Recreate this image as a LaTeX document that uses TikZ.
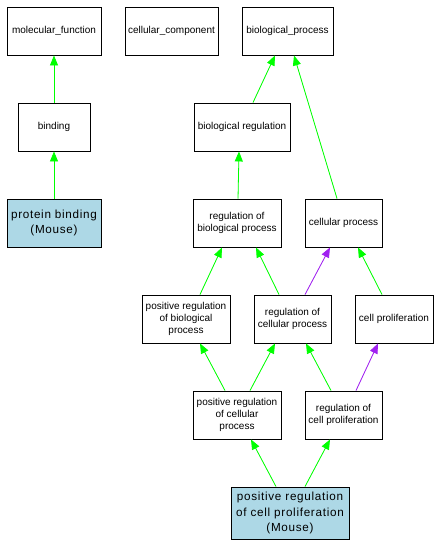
\documentclass[tikz,border=0pt]{standalone}
\usepackage{fontspec}
\setmainfont{Liberation Sans}
\newfontfamily\mousefont[LetterSpace=6]{Liberation Sans}
\usetikzlibrary{arrows.meta}
\definecolor{edgegreen}{RGB}{0,255,0}
\definecolor{edgepurple}{RGB}{160,32,240}
\definecolor{mousefill}{RGB}{173,216,230}
\tikzset{
  box/.style={draw=black, line width=0.9pt, fill=white, minimum height=48pt, inner sep=1pt, align=center, font=\fontsize{10}{12.3}\selectfont},
  mousebox/.style={box, fill=mousefill, font=\mousefont\fontsize{11.7}{15.5}\selectfont},
  isa/.style={draw=edgegreen, line width=0.8pt, -{Triangle[length=10pt,width=8pt]}, fill=edgegreen},
  reg/.style={draw=edgepurple, line width=0.8pt, -{Triangle[length=10pt,width=8pt]}, fill=edgepurple}
}
\begin{document}
\begin{tikzpicture}[x=1pt,y=-1pt]
\useasboundingbox[fill=white] (0,0) rectangle (440,548);
\node[box, minimum width=94pt] (mf) at (54,31) {molecular\_function};
\node[box, minimum width=93pt] (cc) at (171.5,31) {cellular\_component};
\node[box, minimum width=91pt] (bp) at (287.5,31) {biological\_process};
\node[box, minimum width=72pt] (bind) at (54,127) {binding};
\node[box, minimum width=96pt] (breg) at (242,127) {biological regulation};
\node[mousebox, minimum width=94pt] (pb) at (54,223) {protein binding\\(Mouse)};
\node[box, minimum width=88pt] (rbp) at (237,223) {regulation of\\biological process};
\node[box, minimum width=77pt] (cp) at (343.5,223) {cellular process};
\node[box, minimum width=88pt] (prbp) at (186,319) {positive regulation\\of biological\\process};
\node[box, minimum width=77pt] (rcp) at (292.5,319) {regulation of\\cellular process};
\node[box, minimum width=78pt] (cpr) at (394,319) {cell proliferation};
\node[box, minimum width=88pt] (prcp) at (237,415) {positive regulation\\of cellular\\process};
\node[box, minimum width=77pt] (rcpr) at (343.5,415) {regulation of\\cell proliferation};
\node[mousebox, minimum width=118pt, minimum height=52pt] (prcpr) at (290,513) {positive regulation\\of cell proliferation\\(Mouse)};

\draw[isa] (bind.north) -- (mf.south);
\draw[isa] (pb.north) -- (bind.south);
\draw[isa] ([xshift=11pt]breg.north) -- ([xshift=-12.5pt]bp.south);
\draw[isa] ([xshift=-6.5pt]cp.north) -- ([xshift=6.5pt]bp.south);
\draw[isa] ([xshift=1pt]rbp.north) -- ([xshift=-3pt]breg.south);
\draw[isa] ([xshift=14pt]prbp.north) -- ([xshift=-15pt]rbp.south);
\draw[isa] ([xshift=-13.5pt]rcp.north) -- ([xshift=19pt]rbp.south);
\draw[reg] ([xshift=12.5pt]rcp.north) -- ([xshift=-13.5pt]cp.south);
\draw[isa] ([xshift=-12pt]cpr.north) -- ([xshift=14.5pt]cp.south);
\draw[isa] ([xshift=-12pt]prcp.north) -- ([xshift=14pt]prbp.south);
\draw[isa] ([xshift=13pt]prcp.north) -- ([xshift=-17.5pt]rcp.south);
\draw[isa] ([xshift=-12.5pt]rcpr.north) -- ([xshift=13.5pt]rcp.south);
\draw[reg] ([xshift=12.5pt]rcpr.north) -- ([xshift=-16pt]cpr.south);
\draw[isa] ([xshift=-14pt]prcpr.north) -- ([xshift=14pt]prcp.south);
\draw[isa] ([xshift=15pt]prcpr.north) -- ([xshift=-13.5pt]rcpr.south);
\end{tikzpicture}
\end{document}
